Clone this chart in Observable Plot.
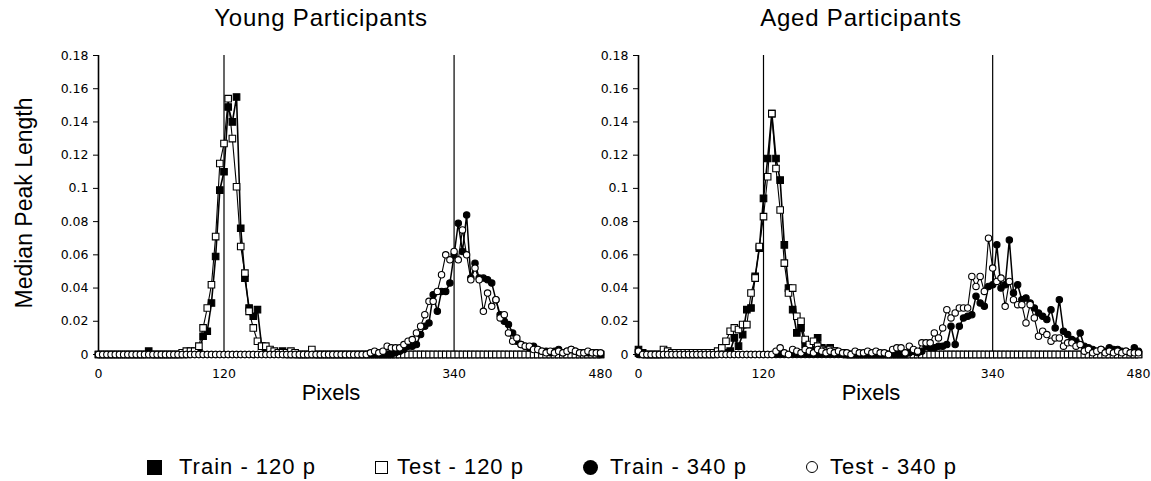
<!DOCTYPE html>
<html>
<head>
<meta charset="utf-8">
<script src="https://cdn.jsdelivr.net/npm/d3@7"></script>
<script src="https://cdn.jsdelivr.net/npm/@observablehq/plot@0.6"></script>
<style>
  html, body { margin: 0; padding: 0; background: white; }
  #root { position: relative; width: 1151px; height: 481px; overflow: hidden; font-family: "Liberation Sans", Arial, sans-serif; color: black; }
  .panel { position: absolute; top: 0; }
  .title { position: absolute; font-size: 24px; letter-spacing: 0.8px; transform: translateX(-50%); white-space: nowrap; line-height: 1; }
  .xlab { position: absolute; font-size: 22px; transform: translateX(-50%); white-space: nowrap; line-height: 1; }
  .ylab { position: absolute; font-size: 23px; white-space: nowrap; line-height: 1; transform: translate(-50%, -50%) rotate(-90deg); }
  .leg { position: absolute; top: 455px; font-size: 22px; letter-spacing: 1px; white-space: nowrap; line-height: 24px; }
  .mk { position: absolute; box-sizing: border-box; }
</style>
</head>
<body>
<div id="root"></div>
<script>
// ---------- data ----------
const pixels = d3.range(0, 481, 4); // x grid 0..480, every 4 pixels
const xTicks = [0, 120, 340, 480];
const yTicks = [0, 0.02, 0.04, 0.06, 0.08, 0.1, 0.12, 0.14, 0.16, 0.18];
const targets = [120, 340];
const panelTitles = ["Young Participants", "Aged Participants"];
const seriesNames = ["Train - 120 p", "Test - 120 p", "Train - 340 p", "Test - 340 p"];

const youngTrain120 = [
0,0,0,0,0,0,0,0,0,0,
0,0,0.002,0,0,0,0,0,0,0,
0,0,0.001,0.001,0.001,0.011,0.014,0.031,0.059,0.099,
0.11,0.149,0.14,0.155,0.076,0.046,0.028,0.023,0.027,0.005,
0.002,0.002,0.001,0.001,0.002,0,0,0,0,0,
0,0,0,0,0,0,0,0,0,0,
0,0,0,0,0,0,0,0,0,0,
0,0,0,0,0,0,0,0,0,0,
0,0,0,0,0,0,0,0,0,0,
0,0,0,0,0,0,0,0,0,0,
0,0,0,0,0,0,0,0,0,0,
0,0,0,0,0,0,0,0,0,0,
0];
const youngTest120 = [
0,0,0,0,0,0,0,0,0,0,
0,0,0,0,0,0,0,0,0,0,
0.001,0.002,0.002,0.002,0.005,0.016,0.028,0.042,0.071,0.115,
0.127,0.154,0.13,0.101,0.065,0.049,0.026,0.016,0.008,0.005,
0.005,0.003,0.002,0.001,0.001,0.001,0.002,0.001,0,0,
0,0.003,0,0,0,0,0,0,0,0,
0,0,0,0,0,0,0,0,0,0,
0,0,0,0,0,0,0,0,0,0,
0,0,0,0,0,0,0,0,0,0,
0,0,0,0,0,0,0,0,0,0,
0,0,0,0,0,0,0,0,0,0,
0,0,0,0,0,0,0,0,0,0,
0];
const youngTrain340 = [
0,0,0,0,0,0,0,0,0,0,
0,0,0,0,0,0,0,0,0,0,
0,0,0,0,0,0,0,0,0,0,
0,0,0,0,0,0,0,0,0,0,
0,0,0,0,0,0,0,0,0,0,
0,0,0,0,0,0,0,0,0,0,
0,0,0,0,0,0,0,0,0,0,
0,0.001,0.002,0.003,0.005,0.005,0.006,0.012,0.017,0.019,
0.036,0.026,0.038,0.038,0.043,0.06,0.079,0.062,0.084,0.046,
0.055,0.046,0.046,0.045,0.043,0.033,0.024,0.02,0.018,0.013,
0.008,0.006,0.005,0.004,0.005,0.003,0.002,0.002,0.001,0.002,
0.003,0.001,0.002,0.003,0.002,0.001,0.001,0.001,0.001,0.001,
0];
const youngTest340 = [
0,0,0,0,0,0,0,0,0,0,
0,0,0,0,0,0,0,0,0,0,
0,0,0,0,0,0,0,0,0,0,
0,0,0,0,0,0,0,0,0,0,
0,0,0,0,0,0,0,0,0,0,
0,0,0,0,0,0,0,0,0,0,
0,0,0,0,0,0.001,0.002,0.001,0.002,0.005,
0.004,0.004,0.004,0.006,0.008,0.009,0.013,0.017,0.024,0.032,
0.032,0.038,0.048,0.06,0.057,0.062,0.057,0.075,0.06,0.045,
0.052,0.045,0.026,0.037,0.029,0.033,0.022,0.024,0.013,0.008,
0.01,0.006,0.005,0.005,0.003,0.003,0.002,0.001,0.002,0.001,
0.002,0.001,0.002,0.003,0.002,0.001,0.001,0.002,0.001,0.001,
0.001];

const agedTrain120 = [
0.003,0.001,0,0,0,0,0,0,0,0,
0,0,0,0,0,0,0,0,0,0.001,
0.001,0.001,0.002,0.01,0.005,0.012,0.027,0.028,0.047,0.064,
0.094,0.118,0.145,0.118,0.105,0.066,0.04,0.027,0.013,0.016,
0.006,0.004,0.003,0.01,0.004,0.003,0.004,0.002,0.001,0.001,
0,0,0,0,0,0,0,0,0,0,
0,0,0,0,0,0,0,0,0,0,
0,0,0,0,0,0,0,0,0,0,
0,0,0,0,0,0,0,0,0,0,
0,0,0,0,0,0,0,0,0,0,
0,0,0,0,0,0,0,0,0,0,
0,0,0,0,0,0,0,0,0,0,
0];
const agedTest120 = [
0.001,0,0,0,0,0,0.003,0.002,0.001,0.001,
0.001,0.001,0.001,0.001,0.001,0.001,0.001,0.001,0.001,0.002,
0.004,0.008,0.014,0.016,0.015,0.018,0.018,0.037,0.046,0.065,
0.083,0.107,0.145,0.112,0.087,0.055,0.037,0.04,0.023,0.02,
0.009,0.006,0.008,0.005,0.003,0.002,0.003,0.002,0.001,0.001,
0,0,0,0,0,0,0,0,0,0,
0,0,0,0,0,0,0,0,0,0,
0,0,0,0,0,0,0,0,0,0,
0,0,0,0,0,0,0,0,0,0,
0,0,0,0,0,0,0,0,0,0,
0,0,0,0,0,0,0,0,0,0,
0,0,0,0,0,0,0,0,0,0,
0];
const agedTrain340 = [
0,0,0,0,0,0,0,0,0,0,
0,0,0,0,0,0,0,0,0,0,
0,0,0,0,0,0,0,0,0,0,
0,0,0,0,0,0,0,0,0,0,
0,0,0,0,0,0,0,0,0,0,
0,0,0,0,0,0,0,0,0,0,
0,0,0,0,0,0.001,0.002,0.001,0.002,0.005,
0.004,0.004,0.005,0.005,0.006,0.017,0.006,0.017,0.022,0.023,
0.024,0.035,0.031,0.029,0.041,0.042,0.066,0.04,0.042,0.069,
0.037,0.042,0.033,0.034,0.031,0.028,0.025,0.023,0.021,0.027,
0.016,0.033,0.014,0.012,0.009,0.008,0.013,0.005,0.004,0.003,
0.002,0.003,0.002,0.004,0.003,0.003,0.002,0.002,0.001,0.004,
0.002];
const agedTest340 = [
0.002,0,0,0,0,0,0,0,0,0,
0,0,0,0,0,0,0,0,0,0,
0,0,0,0,0,0,0,0,0,0,
0,0,0,0.002,0.004,0.001,0,0.003,0.002,0.001,
0.003,0.002,0.001,0.003,0.002,0.001,0.002,0.001,0.002,0.001,
0.001,0,0.002,0.001,0.001,0.002,0.001,0.002,0.001,0.001,
0,0.003,0.004,0.004,0.001,0.005,0.003,0.002,0.007,0.007,
0.007,0.013,0.01,0.016,0.027,0.022,0.025,0.028,0.028,0.028,
0.047,0.041,0.047,0.038,0.07,0.052,0.044,0.046,0.029,0.044,
0.033,0.03,0.03,0.019,0.03,0.022,0.011,0.014,0.012,0.008,
0.01,0.01,0.005,0.007,0.007,0.005,0.006,0.002,0.003,0.001,
0.002,0.003,0.001,0.002,0.001,0.002,0.001,0.002,0.001,0.001,
0.001];

// ---------- drawing ----------
const seriesStyle = [
  {symbol: "square", fill: "black", r: 3.7, sw: 1.6},
  {symbol: "square", fill: "white", r: 3.7, sw: 1.1},
  {symbol: "circle", fill: "black", r: 3.2, sw: 1.5},
  {symbol: "circle", fill: "white", r: 3.2, sw: 1.1}
];

function rows(values) { return values.map((v, i) => ({x: pixels[i], y: v})); }

function panel(seriesList, opt) {
  const marks = [
    Plot.ruleX(targets, {y1: 0, y2: 0.18, stroke: "black", strokeWidth: 1.2}),
    Plot.ruleY([0], {x1: 0, x2: 480, stroke: "black", strokeWidth: 1.5}),
    Plot.ruleX([0], {y1: 0, y2: 0.18, stroke: "black", strokeWidth: 1.6}),
    Plot.axisX({ticks: xTicks, tickSize: 0, tickPadding: 15, tickFormat: d => String(d), label: null}),
    Plot.axisY({ticks: yTicks, tickSize: 5, tickPadding: 5, tickFormat: d => d === 0 ? "0" : String(+d.toFixed(2)), label: null})
  ];
  seriesList.forEach((vals, k) => {
    const st = seriesStyle[k];
    const data = rows(vals);
    marks.push(Plot.line(data, {x: "x", y: "y", stroke: "black", strokeWidth: st.sw}));
    marks.push(Plot.dot(data, {x: "x", y: "y", symbol: st.symbol, r: st.r, fill: st.fill, stroke: "black", strokeWidth: 1.1}));
  });
  return Plot.plot({
    width: opt.width, height: 410,
    marginLeft: opt.ml, marginRight: opt.mr, marginTop: 55, marginBottom: 56,
    x: {domain: [0, 480]},
    y: {domain: [0, 0.18]},
    style: {fontFamily: "'DejaVu Sans', sans-serif", fontSize: "12.5px", color: "black", background: "transparent", overflow: "visible"},
    marks
  });
}

const root = document.getElementById("root");

function place(el, left) {
  const d = document.createElement("div");
  d.className = "panel";
  d.style.left = left + "px";
  d.appendChild(el);
  root.appendChild(d);
}

place(panel([youngTrain120, youngTest120, youngTrain340, youngTest340], {width: 610, ml: 98, mr: 10}), 0);
place(panel([agedTrain120, agedTest120, agedTrain340, agedTest340], {width: 591, ml: 78, mr: 13}), 560);

function addDiv(cls, text, css) {
  const d = document.createElement("div");
  d.className = cls;
  d.textContent = text;
  Object.assign(d.style, css);
  root.appendChild(d);
  return d;
}
addDiv("title", panelTitles[0], {left: "321px", top: "6px"});
addDiv("title", panelTitles[1], {left: "861px", top: "6px"});
addDiv("xlab", "Pixels", {left: "331px", top: "382px"});
addDiv("xlab", "Pixels", {left: "871px", top: "382px"});
addDiv("ylab", "Median Peak Length", {left: "24px", top: "203px"});

// legend
const legendPos = [
  {mk: 147, tx: 179},
  {mk: 375, tx: 397},
  {mk: 583, tx: 610},
  {mk: 806, tx: 830}
];
const legendMarker = [
  {w: 15, h: 15, bg: "black", border: "none", radius: "0"},
  {w: 13, h: 13, bg: "white", border: "1.3px solid black", radius: "0"},
  {w: 15, h: 15, bg: "black", border: "none", radius: "50%"},
  {w: 12, h: 12, bg: "white", border: "1.3px solid black", radius: "50%"}
];
seriesNames.forEach((name, k) => {
  const m = document.createElement("div");
  m.className = "mk";
  const s = legendMarker[k];
  Object.assign(m.style, {left: legendPos[k].mk + "px", top: (467 - s.h / 2) + "px", width: s.w + "px", height: s.h + "px",
    background: s.bg, border: s.border, borderRadius: s.radius});
  root.appendChild(m);
  addDiv("leg", name, {left: legendPos[k].tx + "px"});
});
</script>
</body>
</html>
